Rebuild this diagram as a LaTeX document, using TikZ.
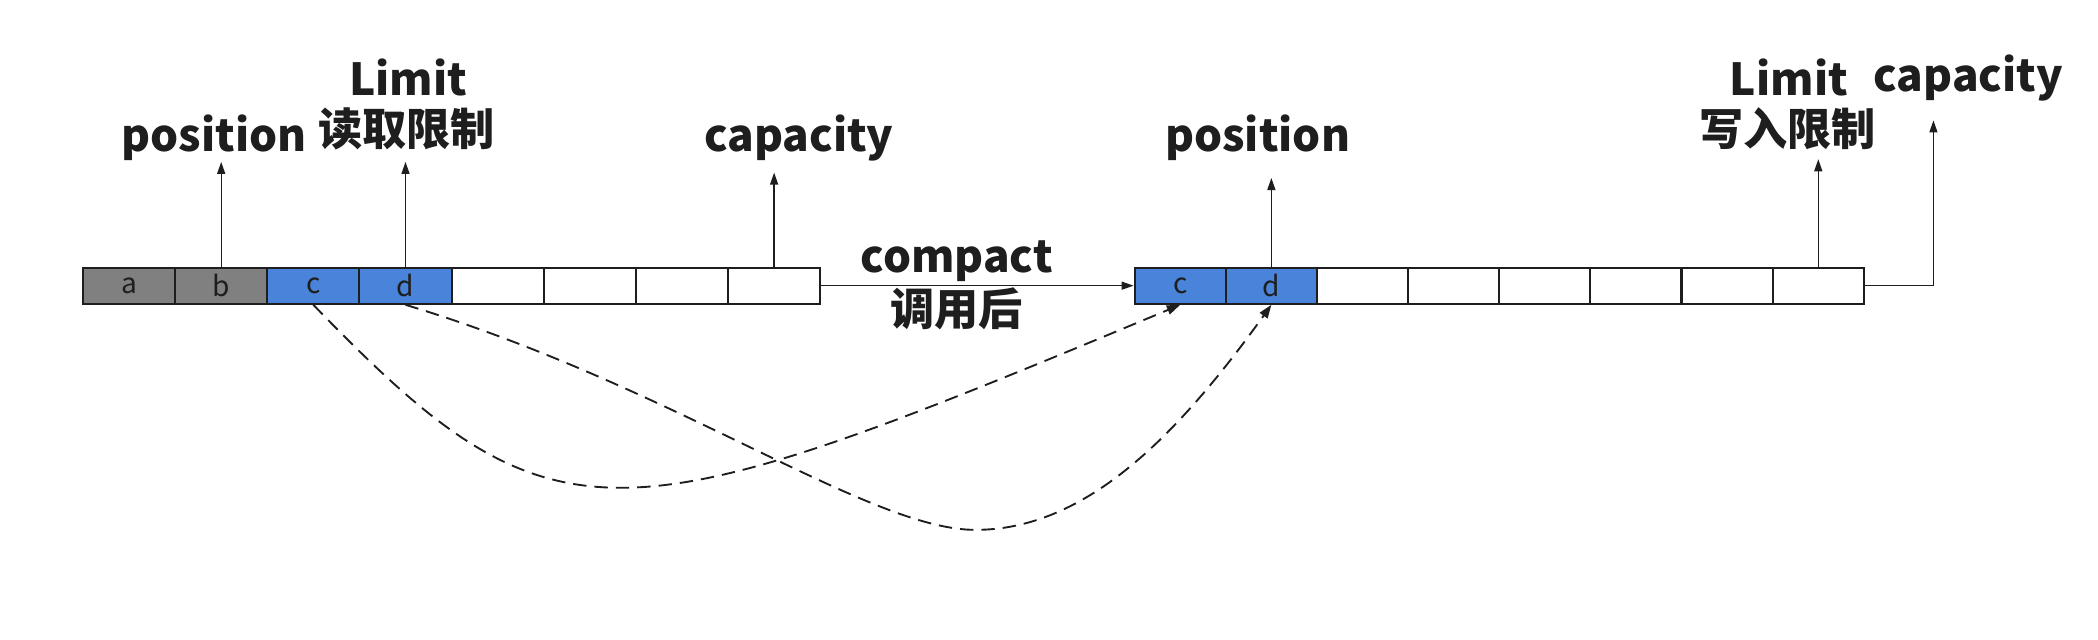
\documentclass[tikz,border=0pt]{standalone}
\usepackage{fontspec}
\setmainfont{Noto Sans CJK SC}
\usetikzlibrary{arrows.meta}
\definecolor{cellblue}{RGB}{74,132,218}
\definecolor{cellgray}{RGB}{128,128,128}
\definecolor{ink}{RGB}{30,30,30}
\begin{document}
\begin{tikzpicture}[x=0.5pt,y=-0.5pt,
  cell/.style={draw=ink, line width=0.8pt, minimum width=34.44pt, minimum height=13.5pt, inner sep=0pt, font=\fontsize{10.5}{12}\selectfont, text=ink},
  rcell/.style={cell, minimum width=34.06pt},
  lbl/.style={font=\bfseries\fontsize{16.5}{18}\selectfont, text=ink, anchor=base, inner sep=0pt},
  ptr/.style={-{Triangle[length=4.5pt,width=3pt]}, line width=0.5pt, draw=ink},
  mv/.style={-{Triangle[length=5pt,width=3.5pt]}, dash pattern=on 5pt off 3pt, line width=0.7pt, draw=ink}]
\useasboundingbox (0,0) rectangle (1568,478);
% left buffer
\foreach \i/\c/\t in {1/cellgray/a,2/cellgray/b,3/cellblue/c,4/cellblue/d,5/white/,6/white/,7/white/,8/white/}
  \node[cell, fill=\c] (L\i) at ({62+68.875*(\i-0.5)},213.5) {\t};
% right buffer
\foreach \i/\c/\t in {1/cellblue/c,2/cellblue/d,3/white/,4/white/,5/white/,6/white/,7/white/,8/white/}
  \node[rcell, fill=\c] (R\i) at ({848+68.125*(\i-0.5)},213.5) {\t};
% labels
\node[lbl] (posL) at (160,113.5) {position};
\node[lbl] (limL) at (305,71) {Limit};
\node[lbl] (limLz) at (304,109) {读取限制};
\node[lbl] (capL) at (597,113.5) {capacity};
\node[lbl] (cmp) at (715,204) {compact};
\node[lbl] (cmpz) at (715,243) {调用后};
\node[lbl] (posR) at (940,113.5) {position};
\node[lbl] (limR) at (1337,71) {Limit};
\node[lbl] (limRz) at (1336,109) {写入限制};
\node[lbl] (capR) at (1471,68.5) {capacity};
% arrow tips
\coordinate (tPosL) at (165,121);
\coordinate (tLimL) at (303,121);
\coordinate (tCapL) at (579,129);
\coordinate (tPosR) at (949,133);
\coordinate (tLimR) at (1359,119);
\coordinate (tCapR) at (1445,90);
\draw[ptr] (L2.north) -- (L2.north |- tPosL);
\draw[ptr] (L4.north) -- (L4.north |- tLimL);
\draw[ptr] (L8.north) -- (L8.north |- tCapL);
\draw[ptr] (R2.north) -- (R2.north |- tPosR);
\draw[ptr] (R8.north) -- (R8.north |- tLimR);
\draw[ptr] (R8.east) -| (tCapR);
\draw[ptr] (L8.east) -- (R1.west);
% moves
\coordinate (lowD) at (729,396);
\draw[mv] (L3.south) .. controls (415,415) and (460,404) .. (R1.south);
\draw[mv] (L4.south) .. controls (503,288) and (649,396) .. (lowD)
  .. controls (809,396) and (877,330) .. (R2.south);
\end{tikzpicture}
\end{document}
